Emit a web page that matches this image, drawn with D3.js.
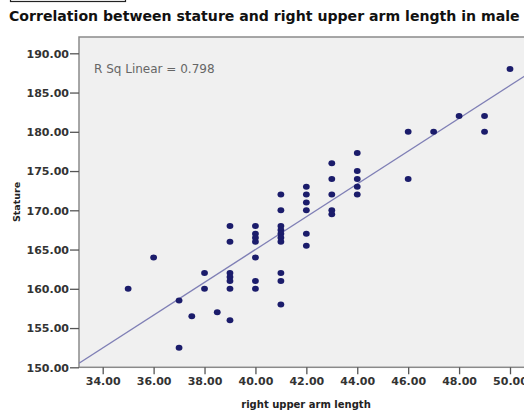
<!doctype html>
<html>
<head>
<meta charset="utf-8">
<title>Stature vs right upper arm length</title>
<script src="https://d3js.org/d3.v7.min.js"></script>
<style>
  body { margin: 0; background: #fff; }
  svg { display: block; }
</style>
</head>
<body>
<script>

    // right upper arm length (x) and stature (y), one pair per person
    var armLength = [35, 36, 37, 37, 37.5, 38, 38, 38.5,
        39, 39, 39, 39, 39, 39, 39,
        40, 40, 40, 40, 40, 40, 40,
        41, 41, 41, 41, 41, 41, 41, 41, 41, 41,
        42, 42, 42, 42, 42, 42,
        43, 43, 43, 43, 43,
        44, 44, 44, 44, 44,
        46, 46, 47, 48, 49, 49, 50];
    var stature = [160, 164, 158.5, 152.5, 156.5, 162, 160, 157,
        168, 166, 162, 161.5, 161, 160, 156,
        168, 167, 166.5, 166, 164, 161, 160,
        172, 170, 168, 167.5, 167, 166.5, 166, 162, 161, 158,
        173, 172, 171, 170, 167, 165.5,
        176, 174, 172, 170, 169.5,
        177.3, 175, 174, 173, 172,
        180, 174, 180, 182, 182, 180, 188];

    var xTicks = [34, 36, 38, 40, 42, 44, 46, 48, 50];
    var yTicks = [150, 155, 160, 165, 170, 175, 180, 185, 190];

    // fit line as printed by the chart (intercept, slope), R squared label
    var fitLine = [81.4, 2.09];
    var rSquare = 0.798;

    var title = "Correlation between stature and right upper arm length in male";

    var width = 524, height = 412;
    var plotLeft = 79, plotTop = 37, plotBottom = 367.3, plotRight = 540;

    var svg = d3.select("body").append("svg")
        .attr("width", width)
        .attr("height", height);

    var x = d3.scaleLinear().domain([34, 50]).range([102.7, 510]);
    var y = d3.scaleLinear().domain([150, 190]).range([367.3, 53.3]);

    // little box cut off at the top
    svg.append("rect")
        .attr("x", 10.5)
        .attr("y", -6)
        .attr("width", 115)
        .attr("height", 7.5)
        .attr("fill", "none")
        .attr("stroke", "#222")
        .attr("stroke-width", 1.2);

    var titleText = svg.append("text")
        .attr("x", 9)
        .attr("y", 21)
        .attr("font-family", "DejaVu Sans, sans-serif")
        .attr("font-weight", "bold")
        .attr("font-size", "12px")
        .attr("fill", "#111")
        .text(title);
    var tl = titleText.node().getComputedTextLength();
    titleText.attr("font-size", (12 * 511 / tl) + "px");

    // plot background
    svg.append("rect")
        .attr("x", plotLeft)
        .attr("y", plotTop)
        .attr("width", plotRight - plotLeft)
        .attr("height", plotBottom - plotTop)
        .attr("fill", "#f0f0f0")
        .attr("stroke", "#8a8a8a")
        .attr("stroke-width", 1.5);

    svg.append("defs").append("clipPath")
        .attr("id", "plotclip")
        .append("rect")
        .attr("x", plotLeft)
        .attr("y", plotTop)
        .attr("width", plotRight - plotLeft)
        .attr("height", plotBottom - plotTop);

    // fit line
    var x0 = x.invert(plotLeft), x1 = x.invert(plotRight);
    svg.append("line")
        .attr("clip-path", "url(#plotclip)")
        .attr("x1", x(x0))
        .attr("y1", y(fitLine[0] + fitLine[1] * x0))
        .attr("x2", x(x1))
        .attr("y2", y(fitLine[0] + fitLine[1] * x1))
        .attr("stroke", "#7f7fb5")
        .attr("stroke-width", 1.4);

    svg.append("g")
        .selectAll("ellipse")
        .data(armLength)
        .enter().append("ellipse")
        .attr("cx", function(d) { return x(d); })
        .attr("cy", function(d, i) { return y(stature[i]); })
        .attr("rx", 3.4)
        .attr("ry", 3)
        .attr("fill", "#1b1c6b");

    svg.append("text")
        .attr("x", 94)
        .attr("y", 73)
        .attr("font-family", "DejaVu Sans, sans-serif")
        .attr("font-size", "12px")
        .attr("fill", "#666")
        .text("R Sq Linear = " + rSquare.toFixed(3));

    var fmt = d3.format(".2f");

    var xAxis = svg.append("g")
        .attr("transform", "translate(0," + plotBottom + ")")
        .call(d3.axisBottom(x).tickValues(xTicks).tickFormat(fmt).tickSize(7).tickPadding(3));

    var yAxis = svg.append("g")
        .attr("transform", "translate(" + plotLeft + ",0)")
        .call(d3.axisLeft(y).tickValues(yTicks).tickFormat(fmt).tickSize(9).tickPadding(1));

    [xAxis, yAxis].forEach(function(a) {
        a.select(".domain").remove();
        a.selectAll("line").attr("stroke", "#555").attr("stroke-width", 1.3);
        a.selectAll("text")
            .attr("font-family", "DejaVu Sans, sans-serif")
            .attr("font-weight", "bold")
            .attr("font-size", "11px")
            .attr("fill", "#333");
    });
    yAxis.selectAll("text").attr("dy", "0.35em");

    svg.append("text")
        .attr("x", 306)
        .attr("y", 408)
        .attr("text-anchor", "middle")
        .attr("font-family", "DejaVu Sans, sans-serif")
        .attr("font-weight", "bold")
        .attr("font-size", "10px")
        .attr("fill", "#222")
        .text("right upper arm length");

    svg.append("text")
        .attr("transform", "translate(20,202) rotate(-90)")
        .attr("text-anchor", "middle")
        .attr("font-family", "DejaVu Sans, sans-serif")
        .attr("font-weight", "bold")
        .attr("font-size", "9.5px")
        .attr("fill", "#222")
        .text("Stature");

</script>
</body>
</html>
